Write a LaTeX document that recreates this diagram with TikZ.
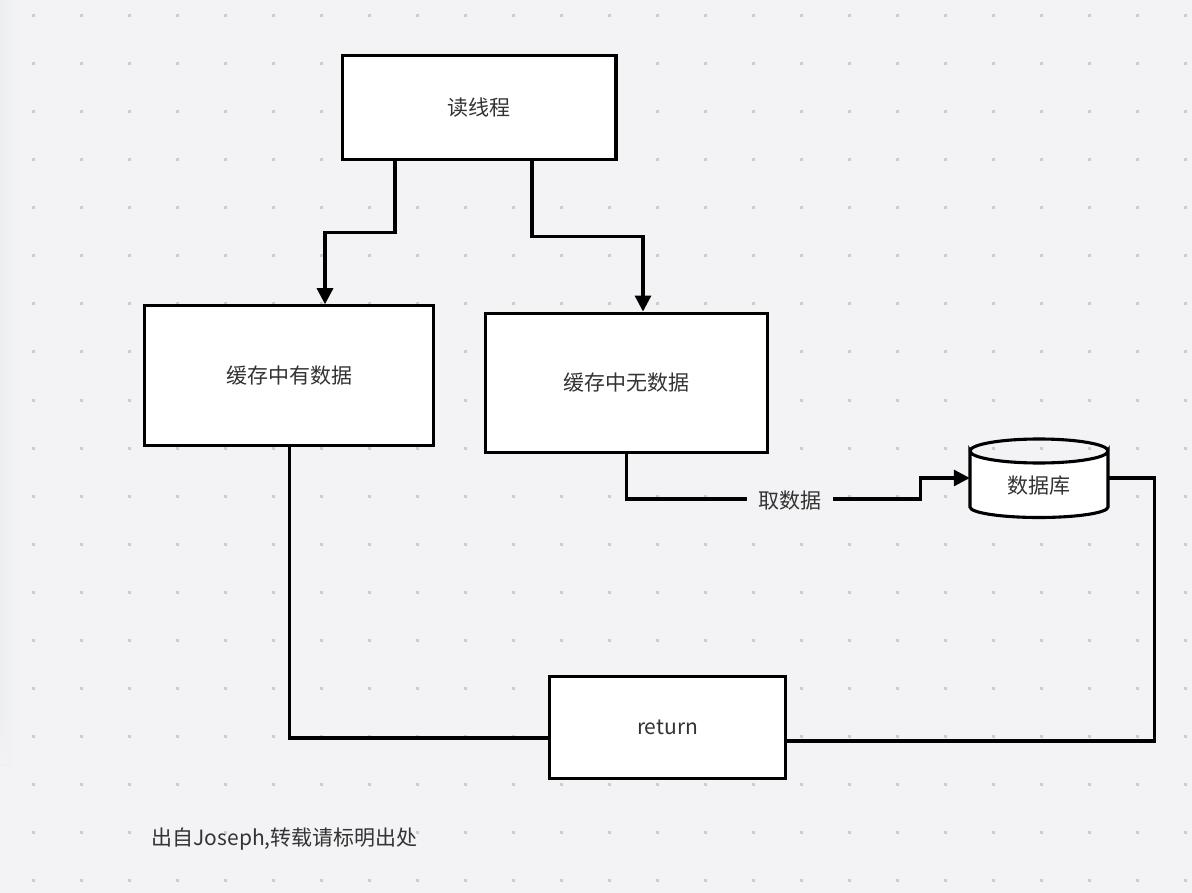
\documentclass[tikz,border=0pt]{standalone}
\usepackage{fontspec}
\setmainfont{Noto Sans CJK SC}
\usetikzlibrary{arrows.meta,calc,fadings}
\definecolor{bgc}{HTML}{F3F3F5}
\definecolor{dotc}{HTML}{CDCDCF}
\definecolor{edgeshade}{HTML}{ECEDEF}
\definecolor{txt}{HTML}{333333}
\tikzset{
  box/.style={draw=black,line width=3.1pt,fill=white,text=txt,font=\fontsize{21}{25}\selectfont,inner sep=0pt,anchor=center},
  plain/.style={text=txt,font=\fontsize{21}{25}\selectfont,inner sep=0pt},
  link/.style={draw=black,line width=3.1pt,line join=miter},
  arrowlink/.style={link,-{Triangle[length=16pt,width=16pt]}},
}
\begin{document}
\begin{tikzpicture}[x=1pt,y=-1pt]
\useasboundingbox (0,0) rectangle (1192,893);
\fill[bgc] (0,0) rectangle (1192,893);
\shade[left color=edgeshade,right color=bgc] (0,0) rectangle (14,765);
\fill[bgc,path fading=north] (0,700) rectangle (14,765);
\foreach \i in {0,...,24}{
  \foreach \j in {0,...,18}{
    \fill[dotc] ({33+48*\i-1.5},{16+48*\j-1.5}) rectangle +(3,3);
  }
}
% boxes
\node[box,minimum width=273.6pt,minimum height=104pt] (read) at (479.2,107.3) {读线程};
\node[box,minimum width=289pt,minimum height=139.6pt] (hit) at (289,375.6) {缓存中有数据};
\node[box,minimum width=282.4pt,minimum height=139pt] (miss) at (626.5,382.6) {缓存中无数据};
\node[box,minimum width=236.2pt,minimum height=102pt] (ret) at (667.5,727.3) {return};
% database
\filldraw[fill=white,draw=black,line width=3.1pt] (970,451) arc[start angle=180,end angle=0,x radius=69,y radius=12]
  -- (1108,507) arc[start angle=0,end angle=180,x radius=69,y radius=10.5] -- cycle;
\draw[black,line width=3.1pt] (970,451) arc[start angle=180,end angle=360,x radius=69,y radius=12];
\node[inner sep=0pt,minimum width=138pt,minimum height=78pt,label={[plain,yshift=-7.6pt]center:数据库}] (db) at (1039,478) {};
% connectors
\draw[arrowlink] (395,0 |- read.south) -- (395,232.5) -- (325,232.5) -- (325,0 |- hit.north);
\draw[arrowlink] (532,0 |- read.south) -- (532,236.3) -- (643,236.3) -- (643,0 |- miss.north);
\coordinate (bend) at (920.5,499);
\node[plain,fill=bgc,minimum width=86pt,minimum height=30pt] (fetch) at (790,500.5) {取数据};
\draw[link] (626.7,0 |- miss.south) -- (626.7,499) -- (fetch.west |- 0,499);
\draw[arrowlink] (fetch.east |- 0,499) -- (bend) -- (bend |- db.west) -- (db.west);
\draw[link] (289.3,0 |- hit.south) -- (289.3,738) -- (ret.west |- 0,738);
\draw[link] (db.east) -- (1154.6,478) -- (1154.6,741) -- (ret.east |- 0,741);
% footer
\node[plain,anchor=west] (note) at (151.5,839) {出自Joseph,转载请标明出处};
\end{tikzpicture}
\end{document}
